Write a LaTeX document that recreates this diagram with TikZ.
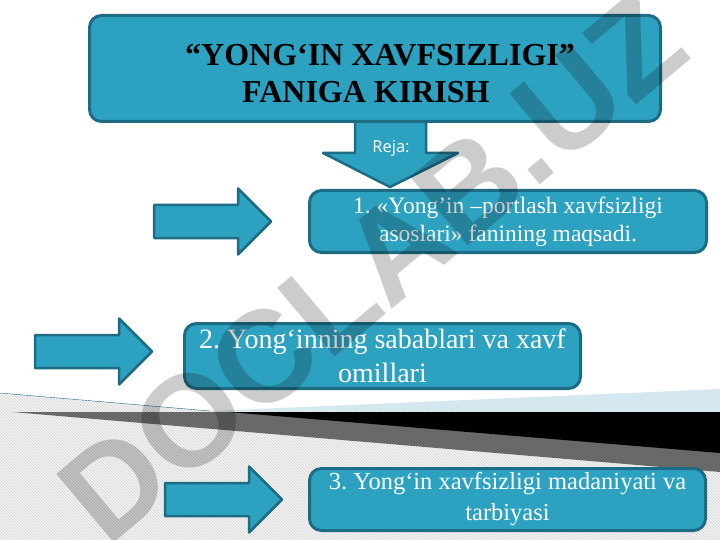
\documentclass[tikz,border=0pt]{standalone}
\usepackage{fontspec}
\setmainfont{Liberation Serif}
\newfontfamily\rejafont{Open Sans}
\newfontfamily\markfont{Liberation Sans}
\usepackage{tikz}
\usetikzlibrary{patterns}
\frenchspacing

\definecolor{tealfill}{RGB}{45,162,192}
\definecolor{tealline}{RGB}{29,108,131}
\definecolor{paleblue}{RGB}{214,232,239}

% block arrow: left end, middle height
\newcommand{\blockarrow}[2]{%
  \draw[arrowbody] (#1,#2-16.5) -- (#1+84,#2-16.5) -- (#1+84,#2-33) -- (#1+117,#2)
    -- (#1+84,#2+33) -- (#1+84,#2+16.5) -- (#1,#2+16.5) -- cycle;}

\begin{document}
\begin{tikzpicture}[x=1pt,y=-1pt,
	box/.style={draw=tealline, fill=tealfill, line width=3pt, rounded corners=12pt, text=white, align=center, inner sep=0pt},
	arrowbody/.style={draw=tealline, fill=tealfill, line width=2.5pt, line join=round}]
	\useasboundingbox (0,0) rectangle (720,540);
	%\draw[help lines] (0,0) grid[step=20] (720,540);
	% striped floor
	\fill[gray!8] (0,393) -- (210,411) -- (720,411) -- (720,540) -- (0,540) -- cycle;
	\fill[pattern=north west lines, pattern color=gray!35] (0,393) -- (210,411) -- (720,411) -- (720,540) -- (0,540) -- cycle;
	\fill[paleblue] (210,411) -- (720,389) -- (720,412) -- cycle;
	\draw[tealline, thin] (0,393) -- (210,411);
	\fill[black, opacity=0.55] (12,412) -- (720,412) -- (720,472) -- cycle;
	\fill[black] (228,412) -- (720,412) -- (720,453) -- cycle;
	% arrows
	\draw[arrowbody] (355,118) -- (426,118) -- (426,153) -- (458,153) -- (390,187) -- (323,153) -- (355,153) -- cycle;
	\blockarrow{154}{221.5}
	\blockarrow{35}{351.5}
	\blockarrow{165}{499.5}
	% boxes
	\node[box, minimum width=571pt, minimum height=106pt, text=black, align=left,
		font=\bfseries\fontsize{32}{37}\selectfont] (title) at (375,68.5)
		{\rule{0pt}{31pt}\hspace*{10pt}“YONG‘IN XAVFSIZLIGI”\\\hspace*{67pt}FANIGA KIRISH};
	\node[box, minimum width=397pt, minimum height=62pt, font=\fontsize{23.5}{28}\selectfont] (plan1) at (508,221.5)
		{1. «Yong’in –portlash xavfsizligi\\asoslari» fanining maqsadi.};
	\node[box, minimum width=396pt, minimum height=65pt, font=\fontsize{28}{34}\selectfont] (plan2) at (382.5,356)
		{2. Yong‘inning sabablari va xavf\\omillari};
	\node[box, minimum width=396pt, minimum height=62pt, font=\fontsize{24.5}{31}\selectfont] (plan3) at (507.5,499.5)
		{3. Yong‘in xavfsizligi madaniyati va\\tarbiyasi};
	\node[text=white, anchor=base, font=\rejafont\fontsize{16.5}{20}\selectfont] (reja) at (391,153) {Reja:};
	% watermark
	\node[rotate=40, opacity=0.2, text opacity=0.2, font=\markfont\bfseries\fontsize{130}{130}\selectfont] (mark) at (372,268) {DOCLAB.UZ};
\end{tikzpicture}
\end{document}
